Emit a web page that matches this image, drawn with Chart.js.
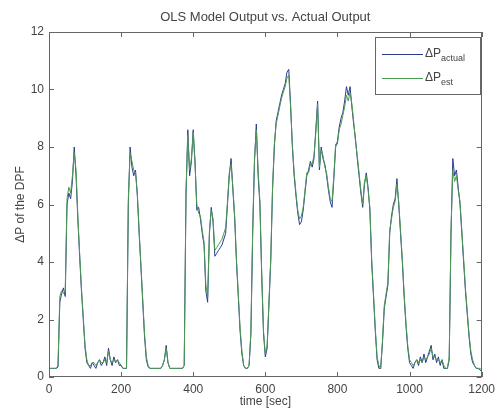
<!DOCTYPE html>
<html><head><meta charset="utf-8">
<script src="https://cdn.jsdelivr.net/npm/chart.js@4.4.1/dist/chart.umd.min.js"></script>
<style>html,body{margin:0;padding:0;background:#fff}#wrap{width:500px;height:420px}</style>
</head><body><div id="wrap"><canvas id="c" width="500" height="420"></canvas></div>
<script>
const timeSec=[
0,5,10,15,20,25,30,35,40,45,50,55,60,65,70,75,80,85,90,95,
100,105,110,115,120,125,130,135,140,145,150,155,160,165,170,175,180,185,190,195,
200,205,210,215,220,225,230,235,240,245,250,255,260,265,270,275,280,285,290,295,
300,305,310,315,320,325,330,335,340,345,350,355,360,365,370,375,380,385,390,395,
400,405,410,415,420,425,430,435,440,445,450,455,460,465,470,475,480,485,490,495,
500,505,510,515,520,525,530,535,540,545,550,555,560,565,570,575,580,585,590,595,
600,605,610,615,620,625,630,635,640,645,650,655,660,665,670,675,680,685,690,695,
700,705,710,715,720,725,730,735,740,745,750,755,760,765,770,775,780,785,790,795,
800,805,810,815,820,825,830,835,840,845,850,855,860,865,870,875,880,885,890,895,
900,905,910,915,920,925,930,935,940,945,950,955,960,965,970,975,980,985,990,995,
1000,1005,1010,1015,1020,1025,1030,1035,1040,1045,1050,1055,1060,1065,1070,1075,1080,1085,1090,1095,
1100,1105,1110,1115,1120,1125,1130,1135,1140,1145,1150,1155,1160,1165,1170,1175,1180,1185,1190,1195,
1200];
const actualDP=[
0.3,0.3,0.3,0.3,0.3,0.35,2.6,2.9,3.1,2.8,6.0,6.4,6.2,6.8,8.0,7.0,5.5,4.2,3.0,2.0,
1.0,0.5,0.4,0.3,0.5,0.4,0.3,0.5,0.6,0.4,0.5,0.7,0.4,1.0,0.6,0.4,0.7,0.5,0.6,0.4,
0.4,0.3,0.3,0.3,6.0,8.0,7.3,7.0,7.2,6.3,5.0,3.8,2.6,1.4,0.6,0.35,0.3,0.3,0.3,0.3,
0.3,0.3,0.3,0.4,0.6,1.1,0.5,0.3,0.3,0.3,0.3,0.3,0.3,0.3,0.3,0.4,6.3,8.6,7.0,7.5,
8.6,7.5,5.8,5.9,5.5,5.0,4.6,3.0,2.6,5.0,5.9,5.4,4.2,4.3,4.4,4.5,4.6,4.8,5.0,6.0,
7.0,7.6,6.5,5.5,4.0,2.8,1.6,0.8,0.4,0.3,0.3,0.4,1.5,5.0,7.5,8.8,7.0,6.0,3.5,1.5,
0.7,1.0,2.5,4.0,6.5,8.0,8.9,9.2,9.5,9.8,10.0,10.2,10.6,10.7,9.5,8.0,7.0,6.3,5.7,5.3,
5.4,5.8,6.4,7.0,7.2,7.5,7.3,7.6,8.6,9.6,7.2,8.0,7.6,7.4,7.0,6.5,6.1,5.9,6.9,8.0,
8.2,8.7,9.0,9.2,9.6,10.1,9.8,10.1,9.4,8.8,8.3,7.6,7.0,6.4,5.9,6.7,7.1,6.6,5.8,4.0,
2.8,1.6,0.6,0.3,0.3,1.2,2.4,2.8,3.2,5.0,5.6,6.0,6.2,6.9,6.0,5.0,4.0,2.8,1.8,1.0,
0.5,0.4,0.3,0.5,0.6,0.4,0.7,0.5,0.8,0.5,0.7,0.9,1.1,0.6,0.8,0.5,0.7,0.4,0.6,0.3,
0.3,0.3,0.6,5.0,7.6,7.0,7.2,6.6,6.0,5.0,4.0,3.0,2.2,1.4,0.8,0.5,0.4,0.3,0.3,0.25,
0.2];
const estDP=[
0.3,0.3,0.3,0.3,0.3,0.4,2.8,3.0,2.9,3.0,6.2,6.6,6.4,7.0,7.8,7.2,5.6,4.3,3.1,2.1,
1.1,0.6,0.4,0.4,0.5,0.5,0.4,0.5,0.6,0.5,0.5,0.6,0.5,0.9,0.6,0.5,0.6,0.5,0.6,0.5,
0.4,0.3,0.3,0.3,6.2,7.8,7.5,7.2,7.1,6.4,5.1,3.9,2.7,1.5,0.7,0.4,0.3,0.3,0.3,0.3,
0.3,0.3,0.3,0.4,0.6,1.0,0.5,0.3,0.3,0.3,0.3,0.3,0.3,0.3,0.3,0.4,6.5,8.4,7.2,7.6,
8.5,7.4,6.0,5.7,5.6,5.1,4.7,3.2,2.8,5.1,5.8,5.5,4.4,4.5,4.6,4.7,4.8,5.0,5.2,6.1,
7.1,7.4,6.6,5.6,4.1,2.9,1.7,0.9,0.4,0.3,0.3,0.4,1.6,5.2,7.6,8.6,7.2,6.1,3.6,1.6,
0.8,1.1,2.6,4.1,6.6,8.1,8.8,9.1,9.4,9.7,9.9,10.1,10.4,10.5,9.4,8.1,7.1,6.4,5.8,5.5,
5.6,5.9,6.5,7.1,7.1,7.4,7.4,7.7,8.5,9.5,7.3,7.9,7.7,7.3,7.1,6.6,6.2,6.1,7.0,8.1,
8.1,8.6,8.8,9.1,9.4,9.8,9.6,9.9,9.5,8.9,8.2,7.7,7.1,6.5,6.0,6.8,7.0,6.5,5.9,4.1,
2.9,1.7,0.7,0.4,0.3,1.3,2.5,2.9,3.3,5.1,5.5,5.9,6.1,6.7,6.1,5.1,4.1,2.9,1.9,1.1,
0.6,0.5,0.4,0.5,0.6,0.5,0.6,0.5,0.7,0.6,0.7,0.8,1.0,0.7,0.7,0.6,0.6,0.5,0.6,0.4,
0.3,0.3,0.7,5.1,7.2,6.8,7.0,6.5,6.1,5.1,4.1,3.1,2.3,1.5,0.9,0.6,0.4,0.3,0.3,0.3,
0.25];
const xTicks=[0,200,400,600,800,1000,1200];
const yTicks=[0,2,4,6,8,10,12];
const titleText='OLS Model Output vs. Actual Output';
const xLabel='time [sec]';
const yLabel='\u0394P of the DPF';
const seriesNames=[{main:'\u0394P',sub:'actual'},{main:'\u0394P',sub:'est'}];

const FONT='"Liberation Sans", Arial, sans-serif';
const TXT='#444';
const AXC='#666';
const C_ACT='#2c3a90';
const C_EST='#4d9a52';

const decor={
  id:'decor',
  beforeDraw(ch){const c=ch.ctx;c.save();c.fillStyle='#fff';c.fillRect(0,0,ch.width,ch.height);c.restore();},
  afterDraw(ch){
    const c=ch.ctx,a=ch.chartArea,xs=ch.scales.x,ys=ch.scales.y;
    c.save();
    c.strokeStyle=AXC;c.lineWidth=1;
    c.strokeRect(Math.round(a.left)+0.5,Math.round(a.top)+0.5,Math.round(a.right-a.left)-1,Math.round(a.bottom-a.top)-1);
    const tl=5;
    c.beginPath();
    xTicks.forEach(v=>{const p=Math.round(xs.getPixelForValue(v))+0.5;
      c.moveTo(p,a.bottom);c.lineTo(p,a.bottom-tl);c.moveTo(p,a.top);c.lineTo(p,a.top+tl);});
    yTicks.forEach(v=>{const p=Math.round(ys.getPixelForValue(v))+0.5;
      c.moveTo(a.left,p);c.lineTo(a.left+tl,p);c.moveTo(a.right,p);c.lineTo(a.right-tl,p);});
    c.stroke();
    c.fillStyle=TXT;c.textAlign='center';c.textBaseline='middle';
    c.font='13px '+FONT;
    c.fillText(titleText,(a.left+a.right)/2,17);
    c.font='12px '+FONT;
    c.fillText(xLabel,(a.left+a.right)/2,402);
    c.save();c.translate(21,(a.top+a.bottom)/2);c.rotate(-Math.PI/2);c.fillText(yLabel,0,0);c.restore();
    const bx=375,by=37,bw=105,bh=57;
    c.fillStyle='#fff';c.fillRect(bx,by,bw,bh);
    c.strokeStyle=AXC;c.strokeRect(bx+0.5,by+0.5,bw,bh);
    const rows=[{y:54,col:C_ACT},{y:78,col:C_EST}];
    rows.forEach((r,i)=>{
      c.strokeStyle=r.col;c.lineWidth=1;c.beginPath();c.moveTo(382,r.y+0.5);c.lineTo(423,r.y+0.5);c.stroke();
      c.fillStyle=TXT;c.textAlign='left';c.textBaseline='middle';
      c.font='12px '+FONT;c.fillText(seriesNames[i].main,425,r.y);
      const w=c.measureText(seriesNames[i].main).width;
      c.font='9px '+FONT;c.fillText(seriesNames[i].sub,425+w,r.y+5);
    });
    c.restore();
  }
};

new Chart(document.getElementById('c'),{
  type:'line',
  data:{datasets:[
    {label:'actual',data:timeSec.map((t,i)=>({x:t,y:actualDP[i]})),borderColor:C_ACT,borderWidth:1,pointRadius:0,tension:0,order:2},
    {label:'est',data:timeSec.map((t,i)=>({x:t,y:estDP[i]})),borderColor:C_EST,borderWidth:1,pointRadius:0,tension:0,order:1}
  ]},
  options:{
    responsive:false,maintainAspectRatio:false,animation:false,devicePixelRatio:1,
    layout:{padding:{top:32,right:14,left:0,bottom:0}},
    plugins:{legend:{display:false},tooltip:{enabled:false},title:{display:false}},
    scales:{
      x:{type:'linear',min:0,max:1200,
        afterBuildTicks:s=>{s.ticks=xTicks.map(v=>({value:v}));},
        afterFit:s=>{s.height=43;},
        ticks:{autoSkip:false,maxRotation:0,color:TXT,font:{family:FONT,size:12},padding:5,callback:v=>String(v)},
        grid:{display:false,drawTicks:false},border:{display:false}},
      y:{type:'linear',min:0,max:12,
        afterBuildTicks:s=>{s.ticks=yTicks.map(v=>({value:v}));},
        afterFit:s=>{s.width=49;},
        ticks:{color:TXT,font:{family:FONT,size:12},padding:5,callback:v=>String(v)},
        grid:{display:false,drawTicks:false},border:{display:false}}
    }
  },
  plugins:[decor]
});
</script></body></html>
